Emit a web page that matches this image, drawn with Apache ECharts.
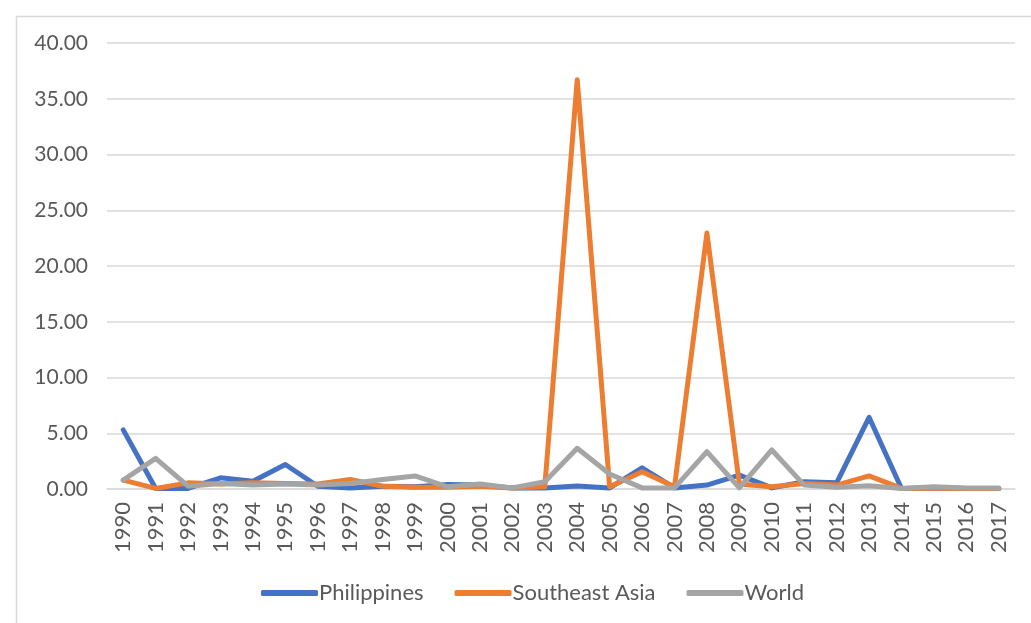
<!DOCTYPE html>
<html><head><meta charset="utf-8">
<script src="https://cdn.jsdelivr.net/npm/echarts@6/dist/echarts.min.js"></script>
<style>html,body{margin:0;padding:0;background:#fff}#c{width:1031px;height:623px}</style>
</head><body><div id="c"></div>
<script>
const years = ['1990','1991','1992','1993','1994','1995','1996','1997','1998','1999','2000','2001','2002','2003','2004','2005','2006','2007','2008','2009','2010','2011','2012','2013','2014','2015','2016','2017'];
const philippines = [5.3,0.05,0.05,1.0,0.7,2.2,0.25,0.1,0.25,0.2,0.4,0.35,0.1,0.1,0.27,0.1,1.9,0.1,0.35,1.25,0.1,0.65,0.55,6.43,0.05,0.1,0.05,0.05];
const southeastAsia = [0.8,0.05,0.55,0.45,0.55,0.5,0.45,0.85,0.25,0.15,0.15,0.25,0.1,0.2,36.7,0.2,1.55,0.2,22.96,0.45,0.2,0.5,0.35,1.17,0.05,0.1,0.05,0.05];
const world = [0.8,2.75,0.25,0.5,0.35,0.45,0.35,0.5,0.85,1.17,0.2,0.45,0.1,0.65,3.65,1.35,0.1,0.1,3.35,0.1,3.5,0.35,0.15,0.3,0.05,0.2,0.1,0.1];
const yTicks = {min:0, max:40, interval:5};

const chart = echarts.init(document.getElementById('c'));
const font = 'Lato, "Open Sans", sans-serif';
const mk = (name, data, color) => ({name, type:'line', data, symbol:'none', smooth:false,
  lineStyle:{width:5, color, cap:'round', join:'round'}, itemStyle:{color}});
chart.setOption({
  animation:false,
  graphic:[{type:'rect', left:14, top:14, shape:{width:1040, height:640}, style:{fill:'none', stroke:'#d9d9d9', lineWidth:1.5}, silent:true}],
  grid:{left:107, right:16, top:43, bottom:134},
  xAxis:{type:'category', data:years, boundaryGap:true,
    axisLine:{lineStyle:{color:'#d9d9d9', width:1.5}}, axisTick:{show:false},
    axisLabel:{rotate:90, color:'#595959', fontSize:22, fontFamily:font, margin:13, interval:0}},
  yAxis:{type:'value', min:yTicks.min, max:yTicks.max, interval:yTicks.interval,
    axisLine:{show:false}, axisTick:{show:false},
    splitLine:{lineStyle:{color:'#d9d9d9', width:1.5}},
    axisLabel:{color:'#595959', fontSize:21, fontFamily:font, margin:19, formatter:v=>v.toFixed(2)}},
  legend:{top:577, left:256, itemWidth:57, itemHeight:6, itemGap:31,
    icon:'roundRect',
    textStyle:{color:'#595959', fontSize:22, fontFamily:font, padding:[0,0,0,-4]},
    data:['Philippines','Southeast Asia','World']},
  series:[mk('Philippines',philippines,'#4472C4'), mk('Southeast Asia',southeastAsia,'#ED7D31'), mk('World',world,'#A5A5A5')]
});
</script></body></html>
